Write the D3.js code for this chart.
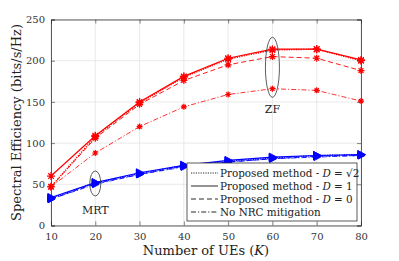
<!DOCTYPE html>
<html>
<head>
<meta charset="utf-8">
<script src="https://cdn.jsdelivr.net/npm/d3@7"></script>
<style>
body { margin: 0; background: #fff; }
</style>
</head>
<body>
<svg id="chart" width="399" height="261" font-family="'DejaVu Serif', serif"></svg>
<script>
var K = [10, 20, 30, 40, 50, 60, 70, 80];
var yTicks = [0, 50, 100, 150, 200, 250];

// ZF
var zfSqrt2 = [47, 108, 149, 180, 202, 213, 214, 200];
var zfOne = [60, 109, 150, 181, 203, 214, 214, 201];
var zfZero = [47, 106, 147, 176, 195, 205, 203, 188];
var zfNoNrc = [47, 88, 120, 144, 159, 166, 164, 151];

// MRT
var mrtSqrt2 = [33, 52, 63, 73, 78, 82, 85, 86];
var mrtOne = [34, 52, 64, 73, 79, 83, 85, 86];
var mrtZero = [32, 51, 62, 72, 77, 81, 84, 85];
var mrtNoNrc = [32, 50, 62, 71, 77, 81, 83, 85];

var legendLabels = ["Proposed method - ", "Proposed method - ", "Proposed method - ", "No NRC mitigation"];
var dashes = ["1.2,1.2", null, "5,3", "5,2,1.2,2"];
var FONT = "'DejaVu Serif', serif";

var svg = d3.select("#chart"),
  margin = {top: 19.5, right: 38, bottom: 35.5, left: 51},
  width = +svg.attr("width") - margin.left - margin.right,
  height = +svg.attr("height") - margin.top - margin.bottom;

var x = d3.scaleLinear().domain([10, 80]).range([0, width]);
var y = d3.scaleLinear().domain([0, 250]).range([height, 0]);

var g = svg.append("g")
  .attr("transform", "translate(" + margin.left + "," + margin.top + ")");

// grid
g.append("g").selectAll("line").data(K).enter().append("line")
  .attr("x1", function(d) { return x(d); }).attr("x2", function(d) { return x(d); })
  .attr("y1", 0).attr("y2", height)
  .attr("stroke", "#e3e3e3").attr("stroke-width", 0.8);
g.append("g").selectAll("line").data(yTicks).enter().append("line")
  .attr("y1", function(d) { return y(d); }).attr("y2", function(d) { return y(d); })
  .attr("x1", 0).attr("x2", width)
  .attr("stroke", "#e3e3e3").attr("stroke-width", 0.8);

// axes
g.append("g")
  .attr("transform", "translate(0," + height + ")")
  .call(d3.axisBottom(x).tickValues(K).tickSize(-4).tickPadding(7));
g.append("g")
  .call(d3.axisLeft(y).tickValues(yTicks).tickSize(-4).tickPadding(6));
g.append("g").call(d3.axisTop(x).tickValues(K).tickSize(-4).tickFormat(""));
g.append("g").attr("transform", "translate(" + width + ",0)")
  .call(d3.axisRight(y).tickValues(yTicks).tickSize(-4).tickFormat(""));
g.selectAll(".domain").attr("stroke", "#333").attr("stroke-width", 0.8);
g.selectAll(".tick line").attr("stroke", "#333").attr("stroke-width", 0.6);
g.selectAll("g").attr("font-family", FONT);
g.selectAll(".tick text").attr("font-size", 10).attr("fill", "#333");

// axis titles
svg.append("text")
  .attr("x", margin.left + width / 2).attr("y", 255)
  .attr("text-anchor", "middle").attr("font-size", 13).attr("fill", "#222")
  .html("Number of UEs (<tspan font-style='italic'>K</tspan>)");
svg.append("text")
  .attr("transform", "translate(21," + (margin.top + height / 2) + ") rotate(-90)")
  .attr("text-anchor", "middle").attr("font-size", 13).attr("fill", "#222")
  .text("Spectral Efficiency (bits/s/Hz)");

var line = d3.line()
  .x(function(d, i) { return x(K[i]); })
  .y(function(d) { return y(d); });

function star(s) {
  var a = s * 0.7;
  return "M" + (-s) + ",0L" + s + ",0M0," + (-s) + "L0," + s +
    "M" + (-a) + "," + (-a) + "L" + a + "," + a + "M" + (-a) + "," + a + "L" + a + "," + (-a);
}

function drawSeries(data, color, dash, kind, size, width) {
  g.append("path").datum(data)
    .attr("fill", "none").attr("stroke", color).attr("stroke-width", width)
    .attr("stroke-dasharray", dash)
    .attr("d", line);
  var m = g.append("g").selectAll("path").data(data).enter().append("path")
    .attr("transform", function(d, i) { return "translate(" + x(K[i]) + "," + y(d) + ")"; });
  if (kind === "star") {
    m.attr("d", star(size)).attr("fill", "none").attr("stroke", color).attr("stroke-width", 1.2);
  } else {
    m.attr("d", "M" + (-size * 0.8) + "," + (-size) + "L" + (size * 1.1) + ",0L" + (-size * 0.8) + "," + size + "Z")
      .attr("fill", color).attr("fill-opacity", 0.6).attr("stroke", color).attr("stroke-width", 1);
  }
}

var red = "#ff0000", blue = "#0000ff";
drawSeries(zfNoNrc, red, dashes[3], "star", 3, 0.8);
drawSeries(zfZero, red, dashes[2], "star", 3.5, 0.9);
drawSeries(zfOne, red, dashes[1], "star", 4, 1.2);
drawSeries(zfSqrt2, red, dashes[0], "star", 4, 1.4);
drawSeries(mrtNoNrc, blue, dashes[3], "tri", 3.5, 0.8);
drawSeries(mrtZero, blue, dashes[2], "tri", 3.5, 0.9);
drawSeries(mrtOne, blue, dashes[1], "tri", 4, 1.1);
drawSeries(mrtSqrt2, blue, dashes[0], "tri", 4, 1.2);

// annotations
g.append("ellipse").attr("cx", x(60)).attr("cy", y(192)).attr("rx", 7).attr("ry", 30)
  .attr("fill", "none").attr("stroke", "#333").attr("stroke-width", 0.8);
g.append("text").attr("x", x(60)).attr("y", y(136)).attr("text-anchor", "middle")
  .attr("font-size", 11).attr("fill", "#222").text("ZF");
g.append("ellipse").attr("cx", x(20)).attr("cy", y(51)).attr("rx", 5.5).attr("ry", 12.5)
  .attr("fill", "none").attr("stroke", "#333").attr("stroke-width", 0.8);
g.append("text").attr("x", x(20)).attr("y", y(14)).attr("text-anchor", "middle")
  .attr("font-size", 11).attr("fill", "#222").text("MRT");

// legend
var lg = svg.append("g").attr("transform", "translate(187,163)");
lg.append("rect").attr("width", 170).attr("height", 58)
  .attr("fill", "#fff").attr("stroke", "#333").attr("stroke-width", 0.8);
var dVals = ["\u221A2", "1", "0"];
legendLabels.forEach(function(lbl, i) {
  var yy = 10 + i * 13;
  lg.append("line").attr("x1", 4).attr("x2", 31).attr("y1", yy).attr("y2", yy)
    .attr("stroke", "#111").attr("stroke-width", 0.9).attr("stroke-dasharray", dashes[i]);
  var t = lg.append("text").attr("x", 33).attr("y", yy + 4).attr("font-size", 10.4)
    .attr("fill", "#222").text(lbl);
  if (i < 3) {
    t.append("tspan").attr("font-style", "italic").text("D");
    t.append("tspan").text(" = " + dVals[i]);
  }
});
</script>
</body>
</html>
